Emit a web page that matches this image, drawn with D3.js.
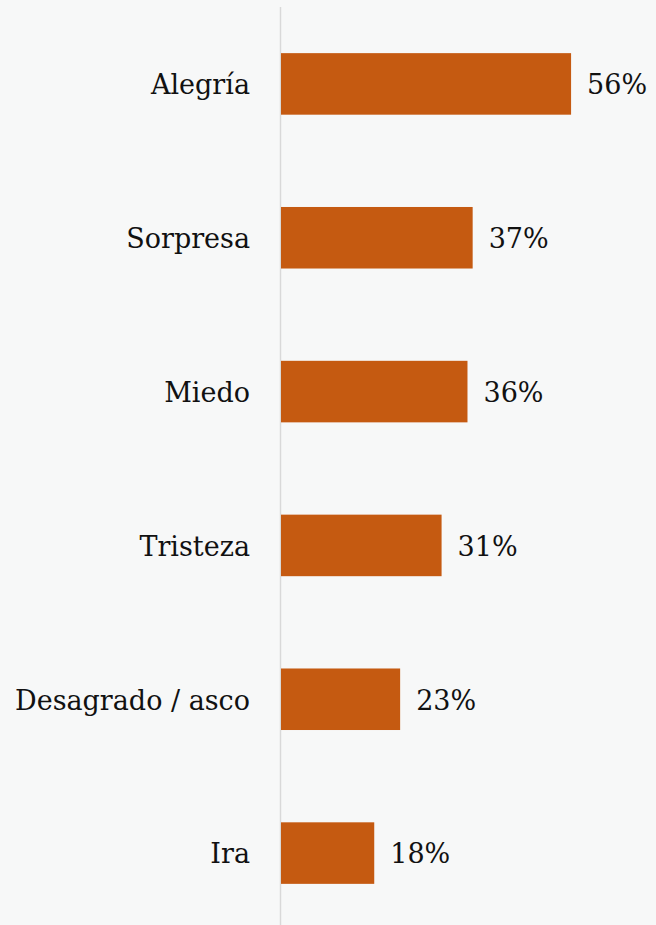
<!DOCTYPE html>
<html><head><meta charset="utf-8">
<script src="https://cdn.jsdelivr.net/npm/d3@7"></script>
<style>html,body{margin:0;padding:0;background:#f7f8f8;}svg{display:block;}</style>
</head><body>
<script>
const categories = ["Alegría","Sorpresa","Miedo","Tristeza","Desagrado / asco","Ira"];
const values = [56,37,36,31,23,18];
const valueLabels = ["56%","37%","36%","31%","23%","18%"];

const W=656,H=925;
const svg=d3.select("body").append("svg").attr("width",W).attr("height",H);
svg.append("rect").attr("width",W).attr("height",H).attr("fill","#f7f8f8");
const x0=281;
const x=d3.scaleLinear().domain([0,100]).range([x0,x0+518]);
const y=d3.scaleBand().domain(categories).range([7,930]).paddingInner(0.6).paddingOuter(0.3);

svg.append("line").attr("x1",280.5).attr("x2",280.5).attr("y1",7).attr("y2",925)
  .attr("stroke","#d9d9d9").attr("stroke-width",1.5);

const font="'DejaVu Serif', serif";
svg.selectAll("rect.bar").data(values).join("rect").attr("class","bar")
  .attr("x",x(0)).attr("y",(d,i)=>y(categories[i]))
  .attr("width",d=>x(d)-x(0)).attr("height",y.bandwidth()).attr("fill","#c55a11");

svg.selectAll("text.cat").data(categories).join("text").attr("class","cat")
  .attr("x",250).attr("y",d=>y(d)+y.bandwidth()/2).attr("dy","0.38em")
  .attr("text-anchor","end").attr("font-family",font).attr("font-size",27).attr("fill","#111")
  .text(d=>d);

svg.selectAll("text.val").data(values).join("text").attr("class","val")
  .attr("x",d=>x(d)+16).attr("y",(d,i)=>y(categories[i])+y.bandwidth()/2).attr("dy","0.38em")
  .attr("font-family",font).attr("font-size",27).attr("fill","#111")
  .text((d,i)=>valueLabels[i]);
</script>
</body></html>
